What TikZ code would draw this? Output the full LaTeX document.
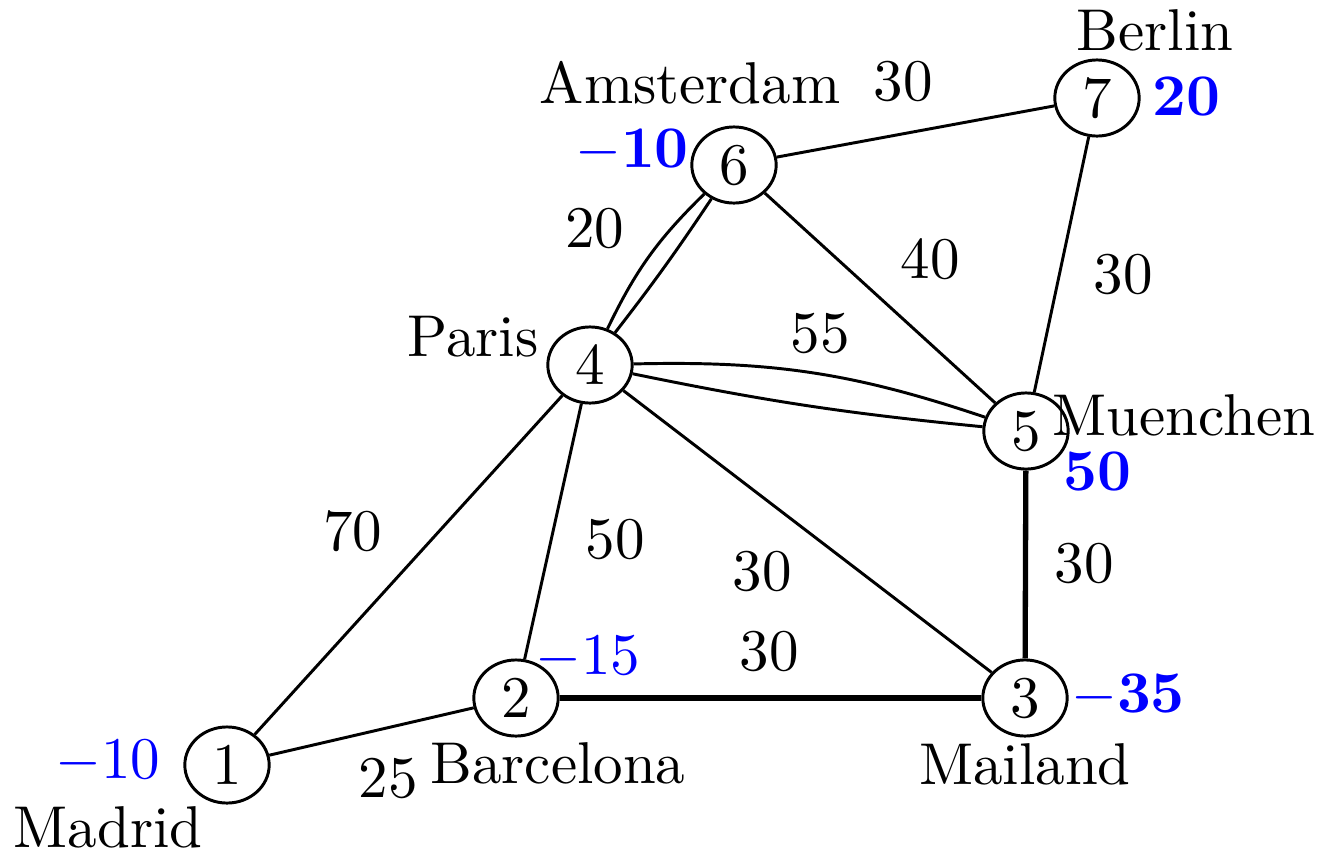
\documentclass[tikz,border=0pt]{standalone}
\usetikzlibrary{shapes.geometric}
\begin{document}
\begin{tikzpicture}[x=0.1695pt,y=-0.1695pt,
  city/.style={draw,ellipse,line width=0.5pt,minimum width=14.3pt,minimum height=12.9pt,inner sep=0pt,font=\normalsize},
  lbl/.style={anchor=base,inner sep=0pt},
  dem/.style={anchor=base,inner sep=0pt,text=blue},
  road/.style={line width=0.5pt},
  mainroad/.style={line width=0.9pt}]
\useasboundingbox (0,0) rectangle (1328,853);
% cities
\node[city] (n1) at (227,765) {1};
\node[city] (n2) at (516,698) {2};
\node[city] (n3) at (1025,698) {3};
\node[city] (n4) at (590,365) {4};
\node[city] (n5) at (1026,431) {5};
\node[city] (n6) at (734,165) {6};
\node[city] (n7) at (1097,98) {7};
% connectors
\draw[road] (n1) -- (n2);
\draw[road] (n1) -- (n4);
\draw[road] (n2) -- (n4);
\draw[mainroad] (n2) -- (n3);
\draw[road] (n4) -- (n3);
\draw[mainroad] (n3) -- (n5);
\draw[road] (n4) to[bend left=10] (n5);
\draw[road] (n4) to[bend right=3] (n5);
\draw[road] (n4) to[bend left=10] (n6);
\draw[road] (n4) to[bend right=2] (n6);
\draw[road] (n6) -- (n5);
\draw[road] (n6) -- (n7);
\draw[road] (n7) -- (n5);
% names
\node[lbl] (tMad) at (108,847) {Madrid};
\node[lbl] (tBar) at (558,783) {Barcelona};
\node[lbl] (tMai) at (1025,784) {Mailand};
\node[lbl] (tPar) at (473,356) {Paris};
\node[lbl] (tMue) at (1184,435) {Muenchen};
\node[lbl] (tAms) at (690,103) {Amsterdam};
\node[lbl] (tBer) at (1155,50) {Berlin};
% edge weights
\node[lbl] (w12) at (388,797) {25};
\node[lbl] (w14) at (353,550) {70};
\node[lbl] (w24) at (615,558) {50};
\node[lbl] (w43) at (762,590) {30};
\node[lbl] (w23) at (769,670) {30};
\node[lbl] (w35) at (1084,582) {30};
\node[lbl] (w45) at (820,352) {55};
\node[lbl] (w65) at (930,278) {40};
\node[lbl] (w46) at (595,247) {20};
\node[lbl] (w67) at (903,100) {30};
\node[lbl] (w75) at (1123,293) {30};
% demands
\node[dem] (d1) at (108,778) {$-10$};
\node[dem] (d2) at (588,674) {$-15$};
\node[dem] (d3) at (1128,712) {$-\mathbf{35}$};
\node[dem] (d5) at (1097,490) {$\mathbf{50}$};
\node[dem] (d7) at (1186,115) {$\mathbf{20}$};
\node[dem] (d6) at (632,167) {$-\mathbf{10}$};
\end{tikzpicture}
\end{document}
